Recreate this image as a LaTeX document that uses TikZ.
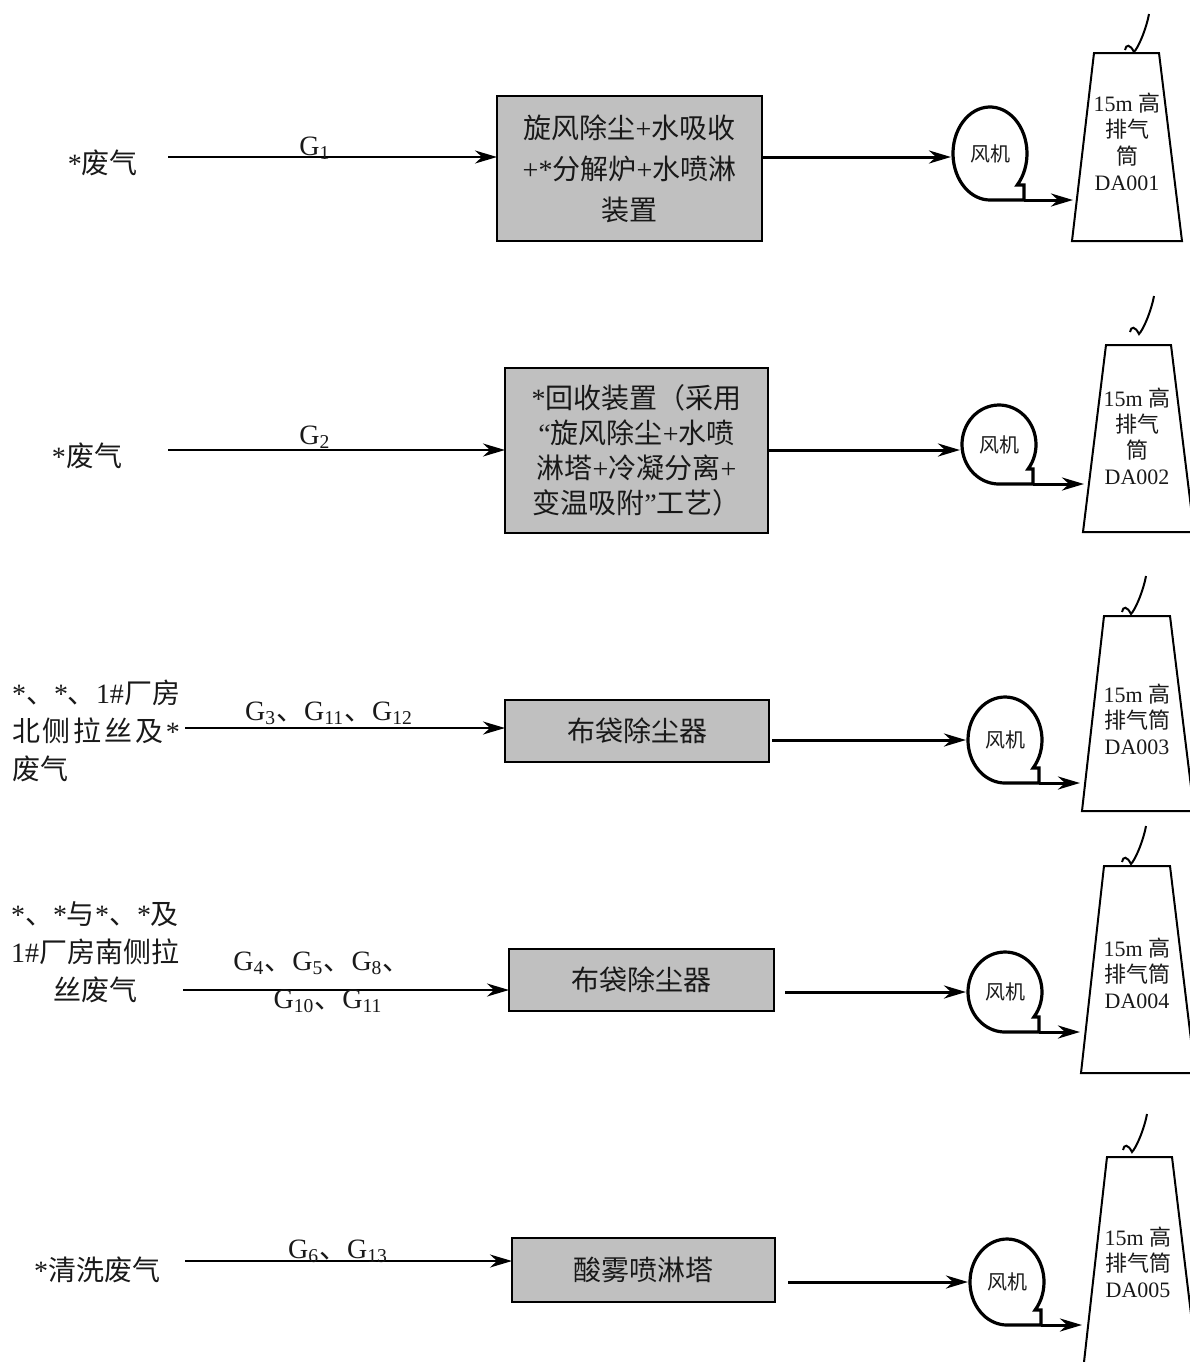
\documentclass[tikz,border=0pt]{standalone}
\usepackage{fontspec}
\setmainfont{Liberation Serif}
\newfontfamily\cjk{Noto Sans CJK SC}
\newcommand{\zh}[1]{{\cjk #1}}
\usetikzlibrary{arrows.meta,calc}
\definecolor{boxgray}{RGB}{192,192,192}
\definecolor{inkc}{RGB}{25,25,25}
\newcommand{\fanshape}[4]{%
  \begin{scope}[shift={(#2,#3)}]
    \pgfmathsetmacro{\fn}{#4-15}
    \pgfmathsetmacro{\ft}{asin(\fn/#4)}
    \pgfmathsetmacro{\fx}{37*cos(\ft)}
    \draw[fanline] (\fx,\fn) arc[start angle=\ft, end angle=-270, x radius=37, y radius=#4] -- (34,#4) -- (34,\fn) -- cycle;
    \node[fantxt] (#1) at (0,0) {\zh{风机}};
    \coordinate (#1in) at (-39,0);
    \coordinate (#1out) at (34,#4);
  \end{scope}}
\newcommand{\smoke}[2]{%
  \begin{scope}[shift={(#1,#2)}]
    \draw[chim] (0,0) .. controls (1,-6) and (5,-6) .. (9,2) .. controls (13,-2) and (21,-20) .. (24,-36);
  \end{scope}}
\begin{document}
\begin{tikzpicture}[x=0.5pt,y=-0.5pt,
  every node/.style={inner sep=0pt, outer sep=0pt, text=inkc},
  lefttxt/.style={font=\fontsize{14}{19}\selectfont},
  glab/.style={font=\fontsize{14}{19}\selectfont, anchor=base},
  procbox/.style={draw=black, line width=1pt, fill=boxgray, align=center},
  fantxt/.style={font=\fontsize{10}{12}\selectfont},
  chimtxt/.style={font=\fontsize{11}{13}\selectfont, align=center},
  inarrow/.style={draw=black, line width=1pt, -{Stealth[length=11pt,width=6.5pt,inset=3.5pt]}},
  outarrow/.style={draw=black, line width=1.5pt, -{Stealth[length=11pt,width=6.5pt,inset=3.5pt]}},
  fanline/.style={draw=black, line width=1.6pt},
  chim/.style={draw=black, line width=1pt}]
\useasboundingbox (0,0) rectangle (1190,1362);

% ---------- left texts ----------
\node[lefttxt] (src1) at (103,163) {*\zh{废气}};
\node[lefttxt] (src2) at (87,456) {*\zh{废气}};
\node[lefttxt, anchor=west, align=left] (src3) at (12,731)
  {*\zh{、}*\zh{、}1\#\zh{厂房}\\
   \makebox[84pt][s]{\zh{北}\hfill\zh{侧}\hfill\zh{拉}\hfill\zh{丝}\hfill\zh{及}\hfill*}\\
   \zh{废气}};
\node[lefttxt, align=center] (src4) at (95,952)
  {*\zh{、}*\zh{与}*\zh{、}*\zh{及}\\ 1\#\zh{厂房南侧拉}\\ \zh{丝废气}};
\node[lefttxt] (src5) at (97,1270) {*\zh{清洗废气}};

% ---------- process boxes ----------
\node[procbox, minimum width=132.5pt, minimum height=72.5pt, font=\fontsize{14}{20.5}\selectfont] (box1) at (629.5,168.5)
  {\zh{旋风除尘}+\zh{水吸收}\\ +*\zh{分解炉}+\zh{水喷淋}\\ \zh{装置}};
\node[procbox, minimum width=131.5pt, minimum height=82.5pt, font=\fontsize{14}{17.5}\selectfont] (box2) at (636.5,450.5)
  {*\zh{回收装置（采用}\\ “\zh{旋风除尘}+\zh{水喷}\\ \zh{淋塔}+\zh{冷凝分离}+\\ \zh{变温吸附}”\zh{工艺）}};
\node[procbox, minimum width=132pt, minimum height=31pt, font=\fontsize{14}{19}\selectfont] (box3) at (637,731) {\zh{布袋除尘器}};
\node[procbox, minimum width=132.5pt, minimum height=31pt, font=\fontsize{14}{19}\selectfont] (box4) at (641.5,980) {\zh{布袋除尘器}};
\node[procbox, minimum width=131.5pt, minimum height=32pt, font=\fontsize{14}{19}\selectfont] (box5) at (643.5,1270) {\zh{酸雾喷淋塔}};

% ---------- inlet arrows ----------
\coordinate (in1) at (168,157);
\coordinate (in2) at (168,450);
\coordinate (in3) at (185,728);
\coordinate (in4) at (183,990);
\coordinate (in5) at (185,1261);
\draw[inarrow] (in1) -- (in1 -| box1.west);
\draw[inarrow] (in2) -- (in2 -| box2.west);
\draw[inarrow] (in3) -- (in3 -| box3.west);
\draw[inarrow] (in4) -- (in4 -| box4.west);
\draw[inarrow] (in5) -- (in5 -| box5.west);

\node[glab] (g1) at (315,155) {G\textsubscript{1}};
\node[glab] (g2) at (315,444) {G\textsubscript{2}};
\node[glab] (g3) at (329,720) {G\textsubscript{3}\zh{、}G\textsubscript{11}\zh{、}G\textsubscript{12}};
\node[glab] (g4a) at (322,970) {G\textsubscript{4}\zh{、}G\textsubscript{5}\zh{、}G\textsubscript{8}\zh{、}};
\node[glab] (g4b) at (328,1008) {G\textsubscript{10}\zh{、}G\textsubscript{11}};
\node[glab] (g5) at (338,1258) {G\textsubscript{6}\zh{、}G\textsubscript{13}};

% ---------- fans ----------
\fanshape{fan1}{990}{153.5}{46.5}
\fanshape{fan2}{999}{444.5}{39.5}
\fanshape{fan3}{1005}{740}{43}
\fanshape{fan4}{1005}{992}{40}
\fanshape{fan5}{1007}{1282}{43}

\coordinate (f1i) at (fan1in |- in1);
\coordinate (f2i) at (fan2in |- in2);
\draw[outarrow] (box1.east |- f1i) -- (f1i);
\draw[outarrow] (box2.east |- f2i) -- (f2i);
\draw[outarrow, shorten <=1.5pt] (box3.east |- fan3in) -- (fan3in);
\draw[outarrow, shorten <=5.5pt] (box4.east |- fan4in) -- (fan4in);
\draw[outarrow, shorten <=6.5pt] (box5.east |- fan5in) -- (fan5in);

% ---------- chimneys ----------
\begin{scope}
\clip (0,0) rectangle (1190,1362);
\draw[chim] (1094,53) -- (1159,53) -- (1182,241) -- (1072,241) -- cycle;
\draw[chim] (1106,345) -- (1171,345) -- (1194,532) -- (1083,532) -- cycle;
\draw[chim] (1104,616) -- (1170,616) -- (1194,811) -- (1082,811) -- cycle;
\draw[chim] (1104,866) -- (1170,866) -- (1195,1073) -- (1081,1073) -- cycle;
\draw[chim] (1107,1157) -- (1172,1157) -- (1199,1380) -- (1082,1380) -- cycle;
\end{scope}
\smoke{1125}{50}
\smoke{1130}{332}
\smoke{1122}{612}
\smoke{1122}{862}
\smoke{1123}{1150}

\node[chimtxt, font=\fontsize{11}{13.2}\selectfont] (stack1) at (1127,142) {15m \zh{高}\\ \zh{排气}\\ \zh{筒}\\ DA001};
\node[chimtxt] (stack2) at (1137,436) {15m \zh{高}\\ \zh{排气}\\ \zh{筒}\\ DA002};
\node[chimtxt] (stack3) at (1137,719) {15m \zh{高}\\ \zh{排气筒}\\ DA003};
\node[chimtxt] (stack4) at (1137,973) {15m \zh{高}\\ \zh{排气筒}\\ DA004};
\node[chimtxt] (stack5) at (1138,1262) {15m \zh{高}\\ \zh{排气筒}\\ DA005};

\coordinate (c1) at (1073,0);
\coordinate (c2) at (1084,0);
\coordinate (c3) at (1080,0);
\coordinate (c4) at (1080,0);
\coordinate (c5) at (1082,0);
\draw[outarrow] (fan1out) -- (fan1out -| c1);
\draw[outarrow] (fan2out) -- (fan2out -| c2);
\draw[outarrow] (fan3out) -- (fan3out -| c3);
\draw[outarrow] (fan4out) -- (fan4out -| c4);
\draw[outarrow] (fan5out) -- (fan5out -| c5);
\end{tikzpicture}
\end{document}
